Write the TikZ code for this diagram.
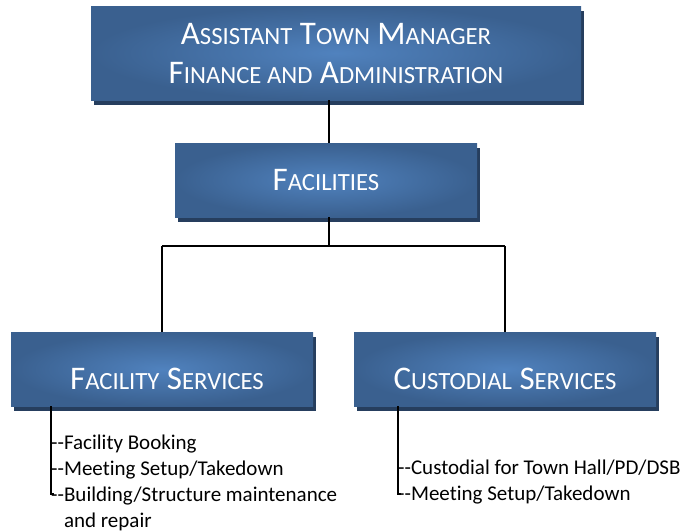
\documentclass[tikz,border=0pt]{standalone}
\usepackage{fontspec}
\setmainfont{Carlito}[Ligatures={NoCommon}]
\usetikzlibrary{shadows}
\definecolor{boxin}{RGB}{80,130,190}
\definecolor{boxout}{RGB}{58,96,143}
\definecolor{boxshadow}{RGB}{38,62,94}
\newcommand{\bigc}[1]{{\fontsize{33}{39}\selectfont #1}}
\newcommand{\smc}[1]{{\fontsize{24.7}{39}\selectfont #1}}
\begin{document}
\begin{tikzpicture}[x=1pt,y=-1pt,
  orgbox/.style={rectangle, minimum width=#1, inner sep=0pt,
    inner color=boxin, outer color=boxout, text=white, align=center,
    font=\fontsize{33}{39}\selectfont,
    drop shadow={shadow xshift=2.5pt, shadow yshift=-4.5pt, fill=boxshadow, opacity=1}},
  boxtext/.style={inner sep=0pt, text=white, font=\fontsize{33}{39}\selectfont},
  conn/.style={line width=1.6pt, black},
  brk/.style={line width=1.3pt, black},
  item/.style={anchor=base west, inner sep=0pt, font=\fontsize{21}{26}\selectfont}]
\useasboundingbox (0,0) rectangle (689,531);
\node[orgbox=490pt, minimum height=94pt] (atm) at (336,53)
  {\bigc{A}\smc{SSISTANT} \bigc{T}\smc{OWN} \bigc{M}\smc{ANAGER}\\
   \bigc{F}\smc{INANCE AND} \bigc{A}\smc{DMINISTRATION}};
\node[orgbox=302pt, minimum height=74pt] (fac) at (326,180)
  {\bigc{F}\smc{ACILITIES}};
\node[orgbox=302pt, minimum height=74pt] (fs) at (162,369) {};
\node[orgbox=302pt, minimum height=74pt] (cs) at (505,369) {};
\node[boxtext] (fst) at ([xshift=5pt,yshift=-10pt]fs.center)
  {\bigc{F}\smc{ACILITY} \bigc{S}\smc{ERVICES}};
\node[boxtext] (cst) at ([yshift=-10pt]cs.center)
  {\bigc{C}\smc{USTODIAL} \bigc{S}\smc{ERVICES}};
\coordinate (spine) at (329,246);
\draw[conn] (atm.south -| spine) -- (fac.north -| spine);
\draw[conn] (fac.south -| spine) -- (spine);
\draw[conn] (fs.north |- spine) -- (cs.north |- spine);
\draw[conn] (fs.north |- spine) -- (fs.north);
\draw[conn] (cs.north |- spine) -- (cs.north);
% lists
\coordinate (lb) at (51,494);
\coordinate (rb) at (398,494);
\draw[brk] (fs.south -| lb) -- (lb) -- ++(3,0);
\draw[brk] (cs.south -| rb) -- (rb) -- ++(3,0);
\node[item] (l1) at (51,449) {-{}-Facility Booking};
\node[item] (l2) at (51,475) {-{}-Meeting Setup/Takedown};
\node[item] (l3) at (51,501) {-{}-Building/Structure maintenance};
\node[item] (l4) at (51,527) {\phantom{-{}-}and repair};
\node[item] (r1) at (398,474) {-{}-Custodial for Town Hall/PD/DSB};
\node[item] (r2) at (398,500) {-{}-Meeting Setup/Takedown};
\end{tikzpicture}
\end{document}
